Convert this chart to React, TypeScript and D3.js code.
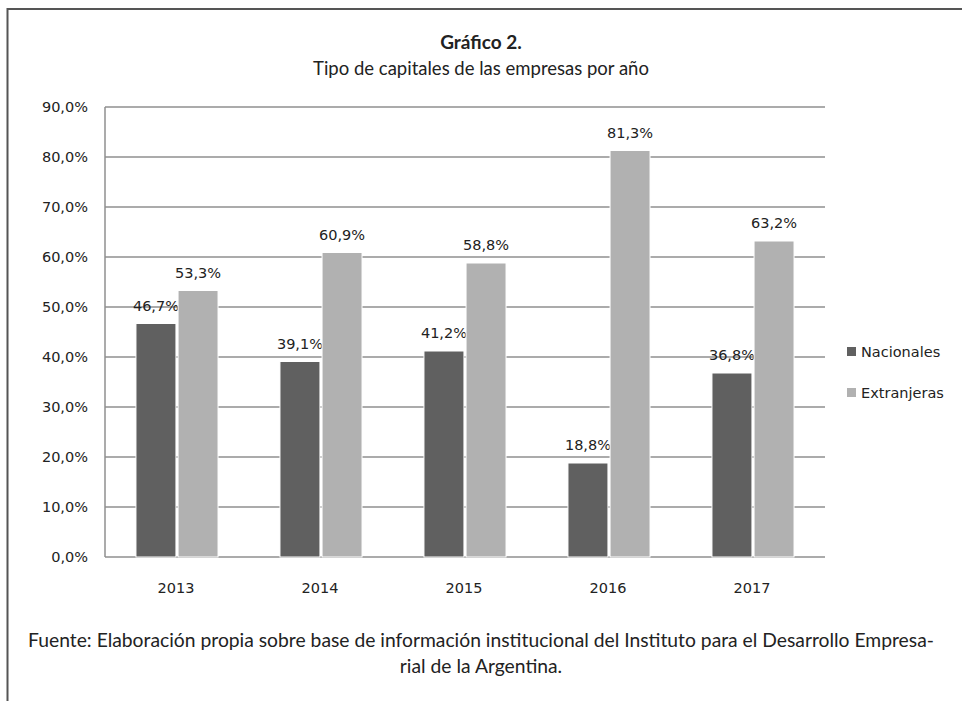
import { useEffect, useRef } from "react";
import * as d3 from "d3";

const years = ["2013", "2014", "2015", "2016", "2017"];
const seriesNames = ["Nacionales", "Extranjeras"];
const nacionales = [46.7, 39.1, 41.2, 18.8, 36.8];
const extranjeras = [53.3, 60.9, 58.8, 81.3, 63.2];
const yTicks = [0, 10, 20, 30, 40, 50, 60, 70, 80, 90];
const colors = ["#606060", "#b1b1b1"];

const W = 962;
const H = 701;
const plot = { left: 105, right: 825, top: 107, bottom: 557 };
const fmt = (v: number) => v.toFixed(1).replace(".", ",") + "%";
const labelFont = "DejaVu Sans, Verdana, sans-serif";

export default function App() {
  const ref = useRef<SVGSVGElement>(null);

  useEffect(() => {
    const svg = d3.select(ref.current!);
    svg.selectAll("*").remove();

    const y = d3.scaleLinear().domain([0, 90]).range([plot.bottom, plot.top]);
    const x0 = d3.scaleBand<string>().domain(years).range([plot.left, plot.right])
      .paddingInner(0.43).paddingOuter(0.215);
    const x1 = d3.scaleBand<string>().domain(seriesNames).range([0, x0.bandwidth()]).paddingInner(0.05);
    const values = [nacionales, extranjeras];
    const catX = d3.scaleBand<string>().domain(years).range([plot.left, plot.right]);

    // frame
    svg.append("path")
      .attr("d", `M7.5,${H} V9 H${W}`)
      .attr("fill", "none")
      .attr("stroke", "#555")
      .attr("stroke-width", 2);

    // title
    svg.append("text")
      .attr("x", 481).attr("y", 49)
      .attr("text-anchor", "middle")
      .attr("font-family", "Lato, sans-serif")
      .attr("font-weight", "bold")
      .attr("font-size", 19)
      .attr("fill", "#222")
      .text("Gráfico 2.");
    svg.append("text")
      .attr("x", 481).attr("y", 75)
      .attr("text-anchor", "middle")
      .attr("font-family", "Lato, sans-serif")
      .attr("font-size", 18.5)
      .attr("fill", "#222")
      .text("Tipo de capitales de las empresas por año");

    // gridlines
    svg.append("g")
      .selectAll("line")
      .data(yTicks)
      .join("line")
      .attr("x1", plot.left).attr("x2", plot.right)
      .attr("y1", d => y(d)).attr("y2", d => y(d))
      .attr("stroke", "#8f8f8f")
      .attr("stroke-width", 1.5);

    svg.append("line")
      .attr("x1", plot.left).attr("x2", plot.left)
      .attr("y1", plot.top).attr("y2", plot.bottom)
      .attr("stroke", "#8f8f8f")
      .attr("stroke-width", 1.5);

    // y tick labels
    svg.append("g")
      .selectAll("text")
      .data(yTicks)
      .join("text")
      .attr("x", 88)
      .attr("y", d => y(d) + 5)
      .attr("text-anchor", "end")
      .attr("font-family", labelFont)
      .attr("font-size", 14.5)
      .attr("fill", "#222")
      .text(d => fmt(d));

    // x labels
    svg.append("g")
      .selectAll("text")
      .data(years)
      .join("text")
      .attr("x", d => catX(d)! + catX.bandwidth() / 2 - 1)
      .attr("y", 593)
      .attr("text-anchor", "middle")
      .attr("font-family", labelFont)
      .attr("font-size", 14.5)
      .attr("fill", "#222")
      .text(d => d);

    // bars
    seriesNames.forEach((s, si) => {
      const g = svg.append("g");
      g.selectAll("rect")
        .data(years)
        .join("rect")
        .attr("x", d => x0(d)! + x1(s)!)
        .attr("y", (d, i) => y(values[si][i]))
        .attr("width", x1.bandwidth())
        .attr("height", (d, i) => plot.bottom - y(values[si][i]))
        .attr("fill", colors[si])
        .attr("stroke", "#fff")
        .attr("stroke-width", 1);
      g.selectAll("text")
        .data(years)
        .join("text")
        .attr("x", d => x0(d)! + x1(s)! + x1.bandwidth() / 2)
        .attr("y", (d, i) => y(values[si][i]) - 13)
        .attr("text-anchor", "middle")
        .attr("font-family", labelFont)
        .attr("font-size", 14.5)
        .attr("fill", "#222")
        .text((d, i) => fmt(values[si][i]));
    });

    // legend
    const lg = svg.append("g").attr("transform", "translate(847,0)");
    seriesNames.forEach((s, i) => {
      const ly = 352 + i * 41;
      lg.append("rect")
        .attr("x", 0).attr("y", ly - 5)
        .attr("width", 9).attr("height", 9)
        .attr("fill", colors[i]);
      lg.append("text")
        .attr("x", 14).attr("y", ly + 5)
        .attr("font-family", labelFont)
        .attr("font-size", 14.5)
        .attr("fill", "#222")
        .text(s);
    });

    // source
    const src = [
      "Fuente: Elaboración propia sobre base de información institucional del Instituto para el Desarrollo Empresa-",
      "rial de la Argentina.",
    ];
    svg.append("g")
      .selectAll("text")
      .data(src)
      .join("text")
      .attr("x", 481)
      .attr("y", (d, i) => 647 + i * 26)
      .attr("text-anchor", "middle")
      .attr("font-family", "Lato, sans-serif")
      .attr("font-size", 19.3)
      .attr("fill", "#222")
      .text(d => d);
  }, []);

  return (
    <svg
      ref={ref}
      width={W}
      height={H}
      style={{ position: "absolute", left: 0, top: 0, background: "#fff" }}
    />
  );
}
